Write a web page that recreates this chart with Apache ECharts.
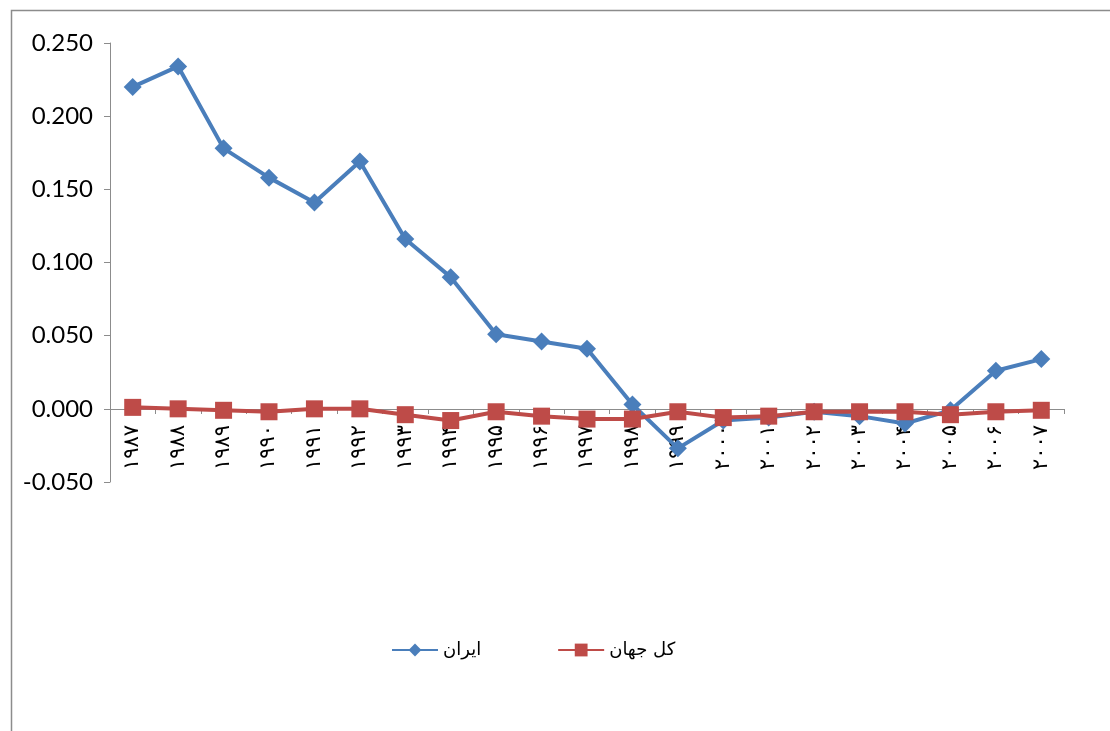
<!DOCTYPE html>
<html>
<head>
<meta charset="UTF-8">
<title>chart</title>
<script src="https://cdn.jsdelivr.net/npm/echarts@6/dist/echarts.min.js"></script>
<style>
  body { margin: 0; background: #fff; }
  #main { width: 1110px; height: 731px; }
</style>
</head>
<body>
<div id="main"></div>
<script>
// سال‌ها
var years = ['۱۹۸۷','۱۹۸۸','۱۹۸۹','۱۹۹۰','۱۹۹۱','۱۹۹۲','۱۹۹۳','۱۹۹۴','۱۹۹۵','۱۹۹۶','۱۹۹۷',
             '۱۹۹۸','۱۹۹۹','۲۰۰۰','۲۰۰۱','۲۰۰۲','۲۰۰۳','۲۰۰۴','۲۰۰۵','۲۰۰۶','۲۰۰۷'];
var iran = [0.220, 0.234, 0.178, 0.158, 0.141, 0.169, 0.116, 0.090, 0.051, 0.046, 0.041,
            0.003, -0.027, -0.008, -0.006, -0.002, -0.005, -0.010, -0.001, 0.026, 0.034];
var world = [0.001, 0.000, -0.001, -0.002, 0.000, 0.000, -0.004, -0.008, -0.002, -0.005, -0.007,
             -0.007, -0.002, -0.006, -0.005, -0.002, -0.002, -0.002, -0.004, -0.002, -0.001];
var names = ['ایران', 'کل جهان'];

var chart = echarts.init(document.getElementById('main'));
var option = {
  backgroundColor: '#fff',
  animation: false,
  graphic: [{
    type: 'rect', left: 9, top: 8,
    shape: { width: 1120, height: 740 },
    style: { fill: 'none', stroke: '#8c8c8c', lineWidth: 1.5 }
  }],
  legend: {
    top: 636, left: 386,
    itemGap: 76, itemWidth: 46, itemHeight: 16,
    textStyle: { fontFamily: 'DejaVu Sans', fontSize: 18, color: '#000' },
    data: names
  },
  grid: { left: 110, right: 46, top: 43, bottom: 249 },
  xAxis: {
    type: 'category',
    data: years,
    boundaryGap: true,
    offset: -73,
    axisLine: { onZero: false, lineStyle: { color: '#8c8c8c', width: 1 } },
    axisTick: { show: true, interval: 0, length: 5, lineStyle: { color: '#8c8c8c' } },
    axisLabel: { interval: 0, rotate: 90, margin: 16, fontFamily: 'DejaVu Sans', fontSize: 21, color: '#000' },
    splitLine: { show: false }
  },
  yAxis: {
    type: 'value',
    min: -0.05, max: 0.25, interval: 0.05,
    axisLine: { show: true, lineStyle: { color: '#8c8c8c' } },
    axisTick: { show: true, length: 6, lineStyle: { color: '#8c8c8c' } },
    axisLabel: {
      fontFamily: 'Lato', fontSize: 24, color: '#000', margin: 17,
      formatter: function (v) { return v.toFixed(3); }
    },
    splitLine: { show: false }
  },
  series: [
    {
      name: names[0], type: 'line', data: iran, z: 5,
      symbol: 'diamond', symbolSize: 18,
      lineStyle: { color: '#4a7ebb', width: 4 },
      itemStyle: { color: '#4a7ebb' }
    },
    {
      name: names[1], type: 'line', data: world, z: 6,
      symbol: 'rect', symbolSize: 17,
      lineStyle: { color: '#be4b48', width: 4 },
      itemStyle: { color: '#be4b48' }
    }
  ]
};
chart.setOption(option);
</script>
</body>
</html>
